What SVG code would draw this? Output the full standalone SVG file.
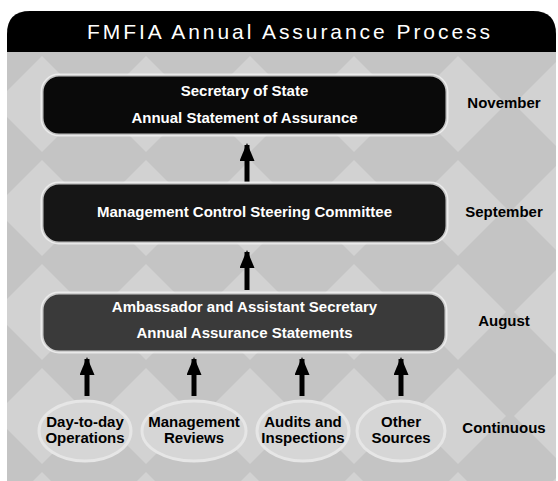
<svg xmlns="http://www.w3.org/2000/svg" width="558" height="481" viewBox="0 0 558 481">
  <defs>
    <pattern id="diamonds" x="-10" y="52" width="104" height="104" patternUnits="userSpaceOnUse">
      <rect width="104" height="104" fill="#c4c4c4"/>
      <polygon points="52,4 100,52 52,100 4,52" fill="#d2d2d2"/>
    </pattern>
    <marker id="arrow" markerUnits="userSpaceOnUse" markerWidth="18" markerHeight="16" refX="16" refY="7.5" orient="auto">
      <path d="M0,0 L18,7.5 L0,15 Z" fill="#000"/>
    </marker>
    <style>
      .title { font-family: "Liberation Sans", Arial, sans-serif; font-size: 21px; fill: #fff; }
      .boxtext { font-family: "Liberation Sans", Arial, sans-serif; font-size: 15px; font-weight: bold; fill: #fff; text-anchor: middle; }
      .label { font-family: "Liberation Sans", Arial, sans-serif; font-size: 15px; font-weight: bold; fill: #000; text-anchor: middle; }
      .box { stroke: #f2f2f2; stroke-width: 3; stroke-opacity: 0.8; }
      .oval { fill: #d6d6d6; stroke: #e6e6e6; stroke-width: 3; }
      .conn { stroke: #000; stroke-width: 5; fill: none; marker-end: url(#arrow); }
    </style>
  </defs>

  <rect width="558" height="481" fill="#ffffff"/>
  <!-- background panel -->
  <rect x="7" y="40" width="549" height="441" fill="url(#diamonds)"/>
  <!-- title bar -->
  <g id="title">
    <path d="M7,52 L7,34 Q7,11 30,11 L533,11 Q556,11 556,34 L556,52 Z" fill="#000"/>
    <text class="title" x="87" y="39" textLength="403" lengthAdjust="spacing">FMFIA Annual Assurance Process</text>
  </g>

  <g id="connectors">
    <line class="conn" x1="247" y1="182" x2="247" y2="145"/>
    <line class="conn" x1="247" y1="290" x2="247" y2="252"/>
    <line class="conn" x1="87" y1="396" x2="87" y2="359"/>
    <line class="conn" x1="194" y1="396" x2="194" y2="359"/>
    <line class="conn" x1="302" y1="396" x2="302" y2="359"/>
    <line class="conn" x1="401" y1="396" x2="401" y2="359"/>
  </g>

  <g id="secretary">
    <rect class="box" x="42" y="75" width="405" height="60" rx="17" fill="#0a0a0a"/>
    <text class="boxtext" x="244.5" y="96">Secretary of State</text>
    <text class="boxtext" x="244.5" y="123">Annual Statement of Assurance</text>
  </g>
  <g id="committee">
    <rect class="box" x="42" y="183" width="405" height="60" rx="17" fill="#161616"/>
    <text class="boxtext" x="244.5" y="217">Management Control Steering Committee</text>
  </g>
  <g id="ambassador">
    <rect class="box" x="42" y="293" width="404" height="59" rx="17" fill="#3a3a3a"/>
    <text class="boxtext" x="244.5" y="312">Ambassador and Assistant Secretary</text>
    <text class="boxtext" x="244.5" y="338">Annual Assurance Statements</text>
  </g>

  <g id="day-to-day">
    <ellipse class="oval" cx="85" cy="431" rx="46" ry="30"/>
    <text class="label" x="85" y="427">Day-to-day</text>
    <text class="label" x="85" y="443">Operations</text>
  </g>
  <g id="management-reviews">
    <ellipse class="oval" cx="194" cy="431" rx="52" ry="30"/>
    <text class="label" x="194" y="427">Management</text>
    <text class="label" x="194" y="443">Reviews</text>
  </g>
  <g id="audits">
    <ellipse class="oval" cx="303" cy="431" rx="46" ry="30"/>
    <text class="label" x="303" y="427">Audits and</text>
    <text class="label" x="303" y="443">Inspections</text>
  </g>
  <g id="other-sources">
    <ellipse class="oval" cx="401" cy="431" rx="44" ry="30"/>
    <text class="label" x="401" y="427">Other</text>
    <text class="label" x="401" y="443">Sources</text>
  </g>

  <g id="months">
    <text class="label" x="504" y="108">November</text>
    <text class="label" x="504" y="217">September</text>
    <text class="label" x="504" y="326">August</text>
    <text class="label" x="504" y="433">Continuous</text>
  </g>
</svg>
